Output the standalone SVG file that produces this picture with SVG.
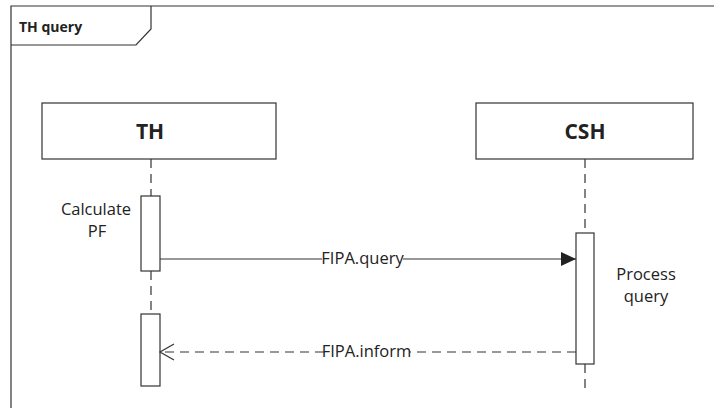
<svg xmlns="http://www.w3.org/2000/svg" width="714" height="408" viewBox="0 0 714 408">
<defs>
<style>
.ln{stroke:#333;stroke-width:1.2;fill:none}
.box{stroke:#333;stroke-width:1.2;fill:#fff}
.life{stroke:#333;stroke-width:1.2;stroke-dasharray:9 6;fill:none}
.msgd{stroke:#333;stroke-width:1.2;stroke-dasharray:9 6;fill:none}
.t{font-family:"Open Sans","Liberation Sans",sans-serif;fill:#222;font-size:16.5px;text-anchor:middle}
.hd{font-family:"Open Sans","Liberation Sans",sans-serif;fill:#222;font-size:21px;font-weight:bold;text-anchor:middle}
</style>
<marker id="filled" markerWidth="16" markerHeight="16" viewBox="0 0 16 16" refX="15" refY="8" orient="auto" markerUnits="userSpaceOnUse">
<path d="M0,1 L15,8 L0,15 Z" fill="#222"/>
</marker>
<marker id="open" markerWidth="18" markerHeight="18" viewBox="0 0 18 18" refX="16" refY="9" orient="auto" markerUnits="userSpaceOnUse">
<path d="M2,1 L16,9 L2,17" fill="none" stroke="#333" stroke-width="1.2"/>
</marker>
</defs>
<rect width="714" height="408" fill="#fff"/>
<g id="frame">
<path class="ln" d="M11,408 L11,6 L714,6"/>
<path class="ln" d="M11,45 L136,45 L151,29 L151,6"/>
<text x="19" y="32" style="font-family:'Open Sans','Liberation Sans',sans-serif;font-size:14px;font-weight:bold;fill:#222">TH query</text>
</g>
<g id="lifelines">
<line class="life" x1="151" y1="159" x2="151" y2="196"/>
<line class="life" x1="151" y1="271" x2="151" y2="314"/>
<line class="life" x1="585" y1="159" x2="585" y2="233"/>
<line class="life" x1="585" y1="364" x2="585" y2="388"/>
</g>
<g id="TH">
<rect class="box" x="42" y="103" width="234" height="56"/>
<text class="hd" x="150" y="139">TH</text>
</g>
<g id="CSH">
<rect class="box" x="476" y="103" width="217" height="56"/>
<text class="hd" x="585" y="139">CSH</text>
</g>
<g id="act-th-1">
<rect class="box" x="141" y="196" width="19" height="75"/>
<text class="t" x="96" y="215">Calculate</text>
<text class="t" x="97" y="237">PF</text>
</g>
<g id="act-csh">
<rect class="box" x="576" y="233" width="18" height="131"/>
<text class="t" x="646" y="280">Process</text>
<text class="t" x="646" y="302">query</text>
</g>
<g id="act-th-2">
<rect class="box" x="141" y="314" width="19" height="72"/>
</g>
<g id="connectors">
<line class="ln" x1="160" y1="259" x2="322" y2="259"/>
<line class="ln" x1="403" y1="259" x2="576" y2="259" marker-end="url(#filled)"/>
<text class="t" x="362.5" y="264">FIPA.query</text>
<line class="msgd" x1="576" y1="352" x2="409" y2="352"/>
<line class="msgd" x1="324" y1="352" x2="160" y2="352" marker-end="url(#open)"/>
<text class="t" x="366.5" y="357">FIPA.inform</text>
</g>
</svg>
